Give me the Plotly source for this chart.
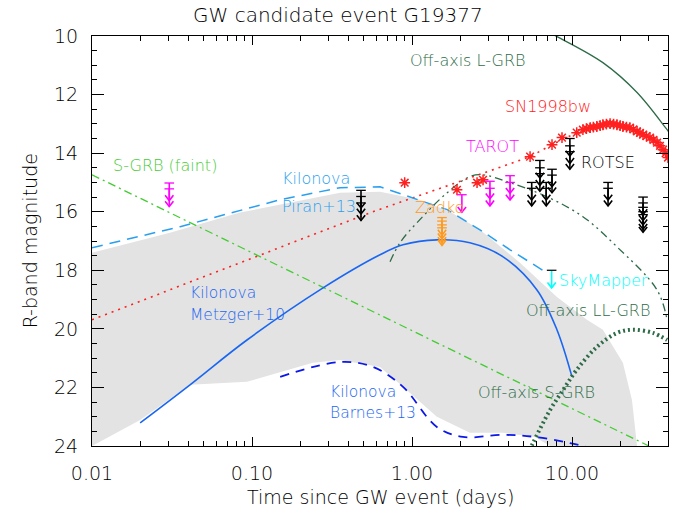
import numpy as np
import plotly.graph_objects as go

# ---------------- data ----------------
# gray band (range of kilonova models)
band_up_t = [0.01, 0.0307, 0.0841, 0.355, 0.631, 1.12, 1.73, 2.66, 4.73, 8.05, 12.4, 15.6, 20.8, 23.7, 25.5]
band_up_mag = [17.40, 16.72, 16.03, 15.35, 15.32, 15.59, 16.0, 16.62, 17.74, 18.91, 19.69, 20.03, 21.16, 22.43, 24.0]
band_lo_t = [0.01, 0.020, 0.041, 0.093, 0.240, 0.355, 0.631, 0.879, 1.43, 2.30, 3.71, 5.87, 7.29]
band_lo_mag = [24.0, 23.11, 21.91, 21.81, 21.16, 21.06, 21.30, 21.98, 23.0, 23.55, 23.55, 23.69, 24.0]

# Kilonova Metzger+10
metzger_t = [0.020, 0.041, 0.093, 0.278, 0.631, 0.879, 1.43, 2.30, 3.71, 6.04, 8.05, 10.0]
metzger_mag = [23.21, 21.91, 20.38, 18.60, 17.47, 17.13, 16.96, 17.06, 17.54, 18.67, 20.03, 21.64]

# Kilonova Piran+13
piran_t = [0.01, 0.0355, 0.150, 0.355, 0.631, 0.972, 1.66, 2.66, 4.10, 6.98]
piran_mag = [17.23, 16.51, 15.59, 15.18, 15.15, 15.49, 15.93, 16.62, 17.30, 18.09]

# Kilonova Barnes+13
barnes_t = [0.150, 0.355, 0.570, 0.879, 1.43, 2.08, 3.71, 5.87, 9.71, 15.0]
barnes_mag = [21.64, 21.13, 21.30, 21.98, 23.35, 23.69, 23.62, 23.69, 23.90, 24.15]

# S-GRB (faint)
sgrb_t = [0.01, 30.0]
sgrb_mag = [14.74, 23.99]

# Off-axis L-GRB
lgrb_t = [5.62, 8.05, 15.6, 25.5, 39.3, 44.7]
lgrb_mag = [9.60, 10.02, 10.91, 11.93, 13.20, 13.60]

# Off-axis LL-GRB
llgrb_t = [0.729, 0.841, 1.12, 1.66, 2.30, 2.78, 4.10, 6.98, 11.7, 19.1, 34.0, 39.3]
llgrb_mag = [17.71, 17.06, 16.27, 15.35, 14.80, 14.74, 15.01, 15.49, 16.17, 17.20, 18.67, 19.69]

# Off-axis S-GRB
offsgrb_t = [5.25, 5.70, 7.29, 8.79, 10.7, 14.3, 19.1, 24.0, 32.1, 39.3]
offsgrb_mag = [24.3, 23.9, 22.77, 22.09, 21.40, 20.62, 20.14, 20.03, 20.14, 20.38]

# SN1998bw (points) and its extrapolation (dotted)
sn_t = [0.90, 1.91, 2.55, 2.78, 5.47, 7.50, 8.66, 10.7, 11.7, 12.3, 13.0, 13.6, 14.3, 15.0, 15.6,
        16.4, 17.3, 18.2, 19.1, 20.0, 20.8, 21.9, 23.0, 24.2, 25.5, 26.6, 27.8, 29.2, 30.7,
        32.3, 34.0, 35.5, 37.1, 38.5, 39.8]
sn_mag = [15.01, 15.25, 15.01, 14.91, 14.12, 13.71, 13.47, 13.30, 13.20, 13.16, 13.13, 13.11, 13.09, 13.06, 13.03,
          13.01, 12.99, 13.01, 13.03, 13.06, 13.09, 13.11, 13.13, 13.19, 13.26, 13.31, 13.37, 13.42, 13.47,
          13.55, 13.64, 13.75, 13.88, 14.00, 14.15]
sn_line_t = [0.01, 0.10, 0.55, 1.91, 5.47, 7.50, 10.7]
sn_line_mag = [19.69, 17.58, 16.03, 15.00, 14.12, 13.71, 13.30]

# upper limits
tarot_t = [0.0304, 0.0304, 2.05, 3.07, 3.07, 4.10, 4.10]
tarot_mag = [15.02, 15.22, 15.42, 14.96, 15.20, 14.77, 15.00]
zadko_t = [1.54, 1.54, 1.54, 1.54]
zadko_mag = [16.20, 16.32, 16.45, 16.55]
rotse_t = [0.48, 0.48, 0.48, 5.6, 5.6, 6.3, 6.3, 6.3, 6.9, 6.9, 7.5, 7.5, 9.7, 9.7, 9.7,
           16.8, 16.8, 27.8, 27.8, 27.8, 27.8, 27.8]
rotse_mag = [15.27, 15.48, 15.70, 15.00, 15.20, 14.25, 14.50, 14.70, 15.00, 15.20, 14.55, 14.75, 13.50, 13.75, 13.95,
             15.00, 15.20, 15.50, 15.70, 15.85, 16.00, 16.10]
skym_t = [7.46]
skym_mag = [18.00]

# tick labels
xtick_vals = [0.01, 0.1, 1.0, 10.0]
xtick_text = ["0.01", "0.10", "1.00", "10.00"]
ytick_vals = [10, 12, 14, 16, 18, 20, 22, 24]

# ---------------- styling ----------------
FONT = "DejaVu Sans"
DKGREEN = "#2d6b47"
GREEN = "#44cc33"
RED = "#ff2020"
MAGENTA = "#ff00ff"
ORANGE = "#ff9a1e"
CYAN = "#00ffff"
LBLUE = "#2a9ff0"
MBLUE = "#1a66f2"
DBLUE = "#0c18e6"


def limit_paths(ts, ms, L=0.6, bw=0.03, hw=0.026, hh=0.18):
    bx, by, ax, ay = [], [], [], []
    for t, m in zip(ts, ms):
        lt = np.log10(t)
        bx += [10 ** (lt - bw), 10 ** (lt + bw), None]
        by += [m, m, None]
        ax += [t, t, None, 10 ** (lt - hw), t, 10 ** (lt + hw), None]
        ay += [m, m + L, None, m + L - hh, m + L, m + L - hh, None]
    return bx, by, ax, ay


fig = go.Figure()

# gray band
fig.add_trace(go.Scatter(x=band_up_t + band_lo_t[::-1], y=band_up_mag + band_lo_mag[::-1],
                         fill="toself", fillcolor="#e3e3e3", line=dict(width=0),
                         mode="lines", hoverinfo="skip"))

# models
fig.add_trace(go.Scatter(x=sgrb_t, y=sgrb_mag, mode="lines",
                         line=dict(color=GREEN, width=1.3, dash="8px,4px,2px,4px")))
fig.add_trace(go.Scatter(x=sn_line_t, y=sn_line_mag, mode="lines",
                         line=dict(color=RED, width=1.6, dash="2px,5px")))
fig.add_trace(go.Scatter(x=piran_t, y=piran_mag, mode="lines",
                         line=dict(color=LBLUE, width=1.5, dash="11px,7px")))
fig.add_trace(go.Scatter(x=barnes_t, y=barnes_mag, mode="lines", line_shape="spline",
                         line=dict(color=DBLUE, width=1.8, dash="9px,7px")))
fig.add_trace(go.Scatter(x=metzger_t, y=metzger_mag, mode="lines", line_shape="spline",
                         line=dict(color=MBLUE, width=1.6)))
fig.add_trace(go.Scatter(x=lgrb_t, y=lgrb_mag, mode="lines", line_shape="spline",
                         line=dict(color=DKGREEN, width=1.3)))
fig.add_trace(go.Scatter(x=llgrb_t, y=llgrb_mag, mode="lines", line_shape="spline",
                         line=dict(color=DKGREEN, width=1.3, dash="8px,4px,2px,4px,2px,4px")))
fig.add_trace(go.Scatter(x=offsgrb_t, y=offsgrb_mag, mode="lines", line_shape="spline",
                         line=dict(color=DKGREEN, width=4, dash="2px,3px")))

# SN1998bw points
fig.add_trace(go.Scatter(x=sn_t, y=sn_mag, mode="markers",
                         marker=dict(symbol="asterisk-open", size=9, color=RED,
                                     line=dict(color=RED, width=1.5))))

# upper limits
for ts, ms, bar_c, arr_c in [(tarot_t, tarot_mag, MAGENTA, MAGENTA),
                             (zadko_t, zadko_mag, ORANGE, ORANGE),
                             (rotse_t, rotse_mag, "#000000", "#000000"),
                             (skym_t, skym_mag, "#111111", CYAN)]:
    bx, by, ax, ay = limit_paths(ts, ms)
    fig.add_trace(go.Scatter(x=ax, y=ay, mode="lines", line=dict(color=arr_c, width=1.6)))
    fig.add_trace(go.Scatter(x=bx, y=by, mode="lines", line=dict(color=bar_c, width=1.3)))


def lab(text, t, m, color, anchor="left", size=16):
    fig.add_annotation(x=np.log10(t), y=m, xref="x", yref="y", text=text, showarrow=False,
                       xanchor=anchor, yanchor="middle",
                       font=dict(family=FONT, size=size, color=color, weight=200))


lab("Off-axis L-GRB", 10 ** 0.3475, 10.84, DKGREEN, "center")
lab("SN1998bw", 10 ** 0.847, 12.41, RED, "center")
lab("TAROT", 10 ** 0.503, 13.78, MAGENTA, "center")
lab("ROTSE", 10 ** 1.046, 14.33, "#000000")
lab("S-GRB (faint)", 10 ** -1.543, 14.43, GREEN, "center")
lab("Kilonova", 10 ** -0.826, 14.85, LBLUE)
lab("Piran+13", 10 ** -0.826, 15.82, LBLUE)
lab("Zadko", 10 ** 0.004, 15.87, ORANGE)
lab("SkyMapper", 10 ** 0.909, 18.34, CYAN)
lab("Off-axis LL-GRB", 10 ** 0.703, 19.37, DKGREEN)
lab("Kilonova", 10 ** -1.399, 18.78, MBLUE, size=15.5)
lab("Metzger+10", 10 ** -1.399, 19.52, MBLUE, size=15.5)
lab("Kilonova", 10 ** -0.526, 22.14, MBLUE, size=15.5)
lab("Barnes+13", 10 ** -0.526, 22.86, MBLUE, size=15.5)
lab("Off-axis S-GRB", 10 ** 0.397, 22.16, DKGREEN)

# titles
fig.add_annotation(text="GW candidate event G19377", xref="paper", yref="paper",
                   x=0.427, y=1.051, xanchor="center", yanchor="middle", showarrow=False,
                   font=dict(family=FONT, size=20, color="#000000", weight=200))
fig.add_annotation(text="Time since GW event (days)", xref="paper", yref="paper",
                   x=0.5, y=-0.124, xanchor="center", yanchor="middle", showarrow=False,
                   font=dict(family=FONT, size=19, color="#000000", weight=200))
fig.add_annotation(text="R-band magnitude", xref="paper", yref="paper",
                   x=-0.107, y=0.5, xanchor="center", yanchor="middle", showarrow=False,
                   textangle=-90, font=dict(family=FONT, size=19, color="#000000", weight=200))

fig.update_layout(
    width=693, height=518, showlegend=False, hovermode=False,
    plot_bgcolor="white", paper_bgcolor="white",
    margin=dict(l=92, r=25, t=36, b=72),
    xaxis=dict(type="log", range=[-2, 1.6], showgrid=False, zeroline=False,
               showline=True, linecolor="black", linewidth=1, mirror="ticks",
               ticks="inside", ticklen=9, tickwidth=1, tickcolor="black",
               tickmode="array", tickvals=xtick_vals, ticktext=xtick_text,
               ticklabelstandoff=10,
               tickfont=dict(family=FONT, size=19, color="black", weight=200),
               minor=dict(ticks="inside", ticklen=5, tickwidth=1, tickcolor="black",
                          dtick="D1", showgrid=False)),
    yaxis=dict(range=[24, 10], showgrid=False, zeroline=False,
               showline=True, linecolor="black", linewidth=1, mirror="ticks",
               ticks="inside", ticklen=12, tickwidth=1, tickcolor="black",
               tickmode="array", tickvals=ytick_vals,
               ticklabelstandoff=9,
               tickfont=dict(family=FONT, size=19, color="black", weight=200),
               minor=dict(ticks="inside", ticklen=5, tickwidth=1, tickcolor="black",
                          tick0=10, dtick=0.5, showgrid=False)),
)

fig.write_html("out.html", config={"displayModeBar": False, "staticPlot": True},
               post_script="document.body.style.margin='0';document.body.style.padding='0';")
